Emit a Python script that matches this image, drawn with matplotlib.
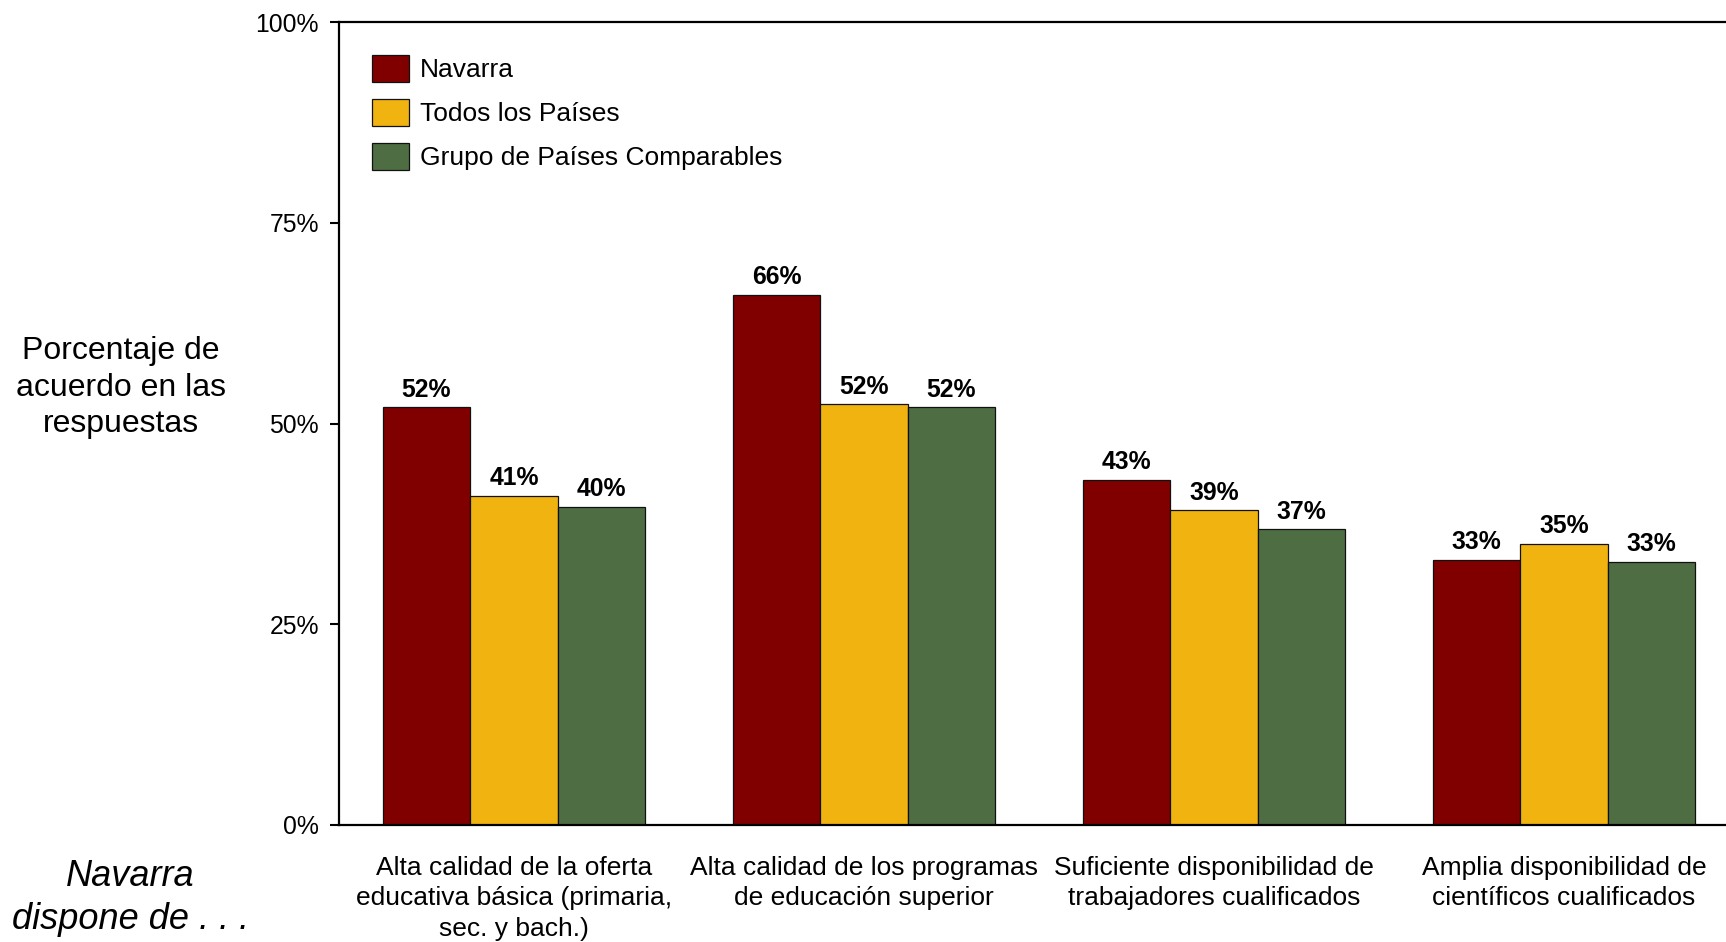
import matplotlib
matplotlib.use("Agg")
import matplotlib.pyplot as plt
import numpy as np

plt.rcParams['font.family'] = ['Liberation Sans', 'DejaVu Sans']

categories = [
    "Alta calidad de la oferta\neducativa básica (primaria,\nsec. y bach.)",
    "Alta calidad de los programas\nde educación superior",
    "Suficiente disponibilidad de\ntrabajadores cualificados",
    "Amplia disponibilidad de\ncientíficos cualificados",
]
series_names = ["Navarra", "Todos los Países", "Grupo de Países Comparables"]
navarra = [52, 66, 43, 33]
todos = [41, 52.4, 39.2, 35]
grupo = [39.6, 52, 36.8, 32.8]
colors = ["#800000", "#F0B30F", "#4F6D43"]
yticks = [0, 25, 50, 75, 100]

W, H = 1726, 942
fig = plt.figure(figsize=(W / 100, H / 100), dpi=100)
ax_left, ax_right, ax_bottom, ax_top = 339, 1739, 825, 22
ax = fig.add_axes([ax_left / W, (H - ax_bottom) / H,
                   (ax_right - ax_left) / W, (ax_bottom - ax_top) / H])

x = np.arange(len(categories))
bw = 0.25
for i, (vals, name, c) in enumerate(zip([navarra, todos, grupo], series_names, colors)):
    pos = x + (i - 1) * bw
    bars = ax.bar(pos, vals, width=bw, color=c, edgecolor="#111111", linewidth=0.9, label=name)
    for b, v in zip(bars, vals):
        ax.annotate(f"{round(v)}%", (b.get_x() + b.get_width() / 2, v),
                    xytext=(0, 4), textcoords="offset points",
                    ha="center", va="bottom", fontsize=17.8, fontweight="bold")

ax.set_xlim(-0.5, 3.5)
ax.set_ylim(0, 100)
ax.set_yticks(yticks)
ax.set_yticklabels([f"{t}%" for t in yticks], fontsize=17.8)
ax.set_xticks(x)
ax.set_xticklabels(categories, fontsize=19, linespacing=1.36)
ax.tick_params(axis="x", length=0, pad=22)
ax.tick_params(axis="y", direction="out", length=6.5, width=1.5, pad=8)

for s in ["left", "bottom", "top"]:
    ax.spines[s].set_linewidth(1.6)
    ax.spines[s].set_color("black")
ax.spines["right"].set_visible(False)

leg = ax.legend(loc="upper left", bbox_to_anchor=(372 / W, 1 - 55 / H),
                bbox_transform=fig.transFigure, frameon=False, fontsize=19,
                handlelength=1.42, handleheight=1.2, handletextpad=0.4,
                labelspacing=0.62, borderpad=0, borderaxespad=0)

fig.text(121 / W, 1 - 387.5 / H, "Porcentaje de\nacuerdo en las\nrespuestas",
         ha="center", va="center", fontsize=23, linespacing=1.29)
fig.text(130 / W, 1 - 898 / H, "Navarra\ndispone de . . .",
         ha="center", va="center", fontsize=26, style="italic", linespacing=1.3)

fig.savefig("out.png", dpi=100)
